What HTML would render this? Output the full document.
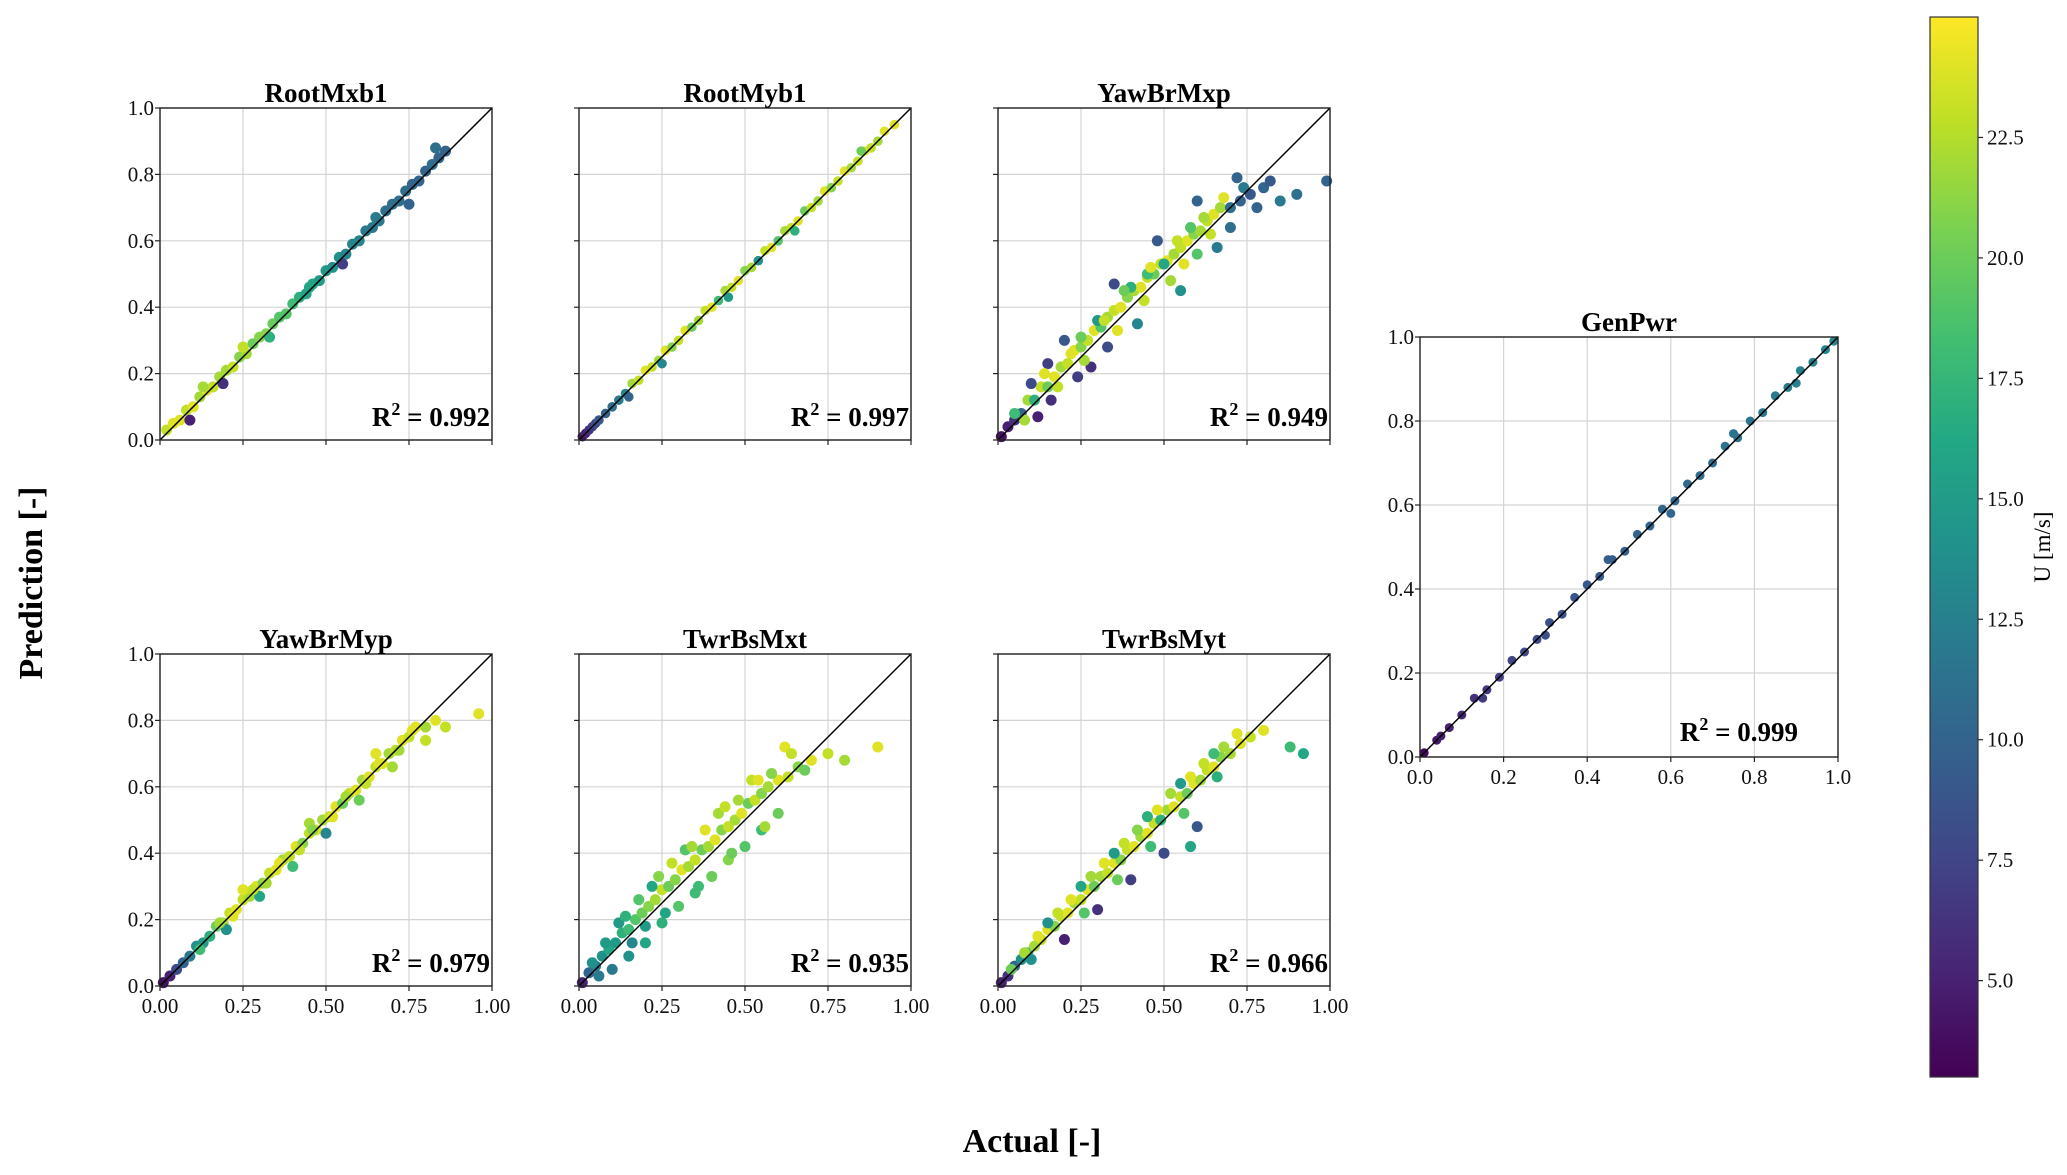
<!DOCTYPE html>
<html><head><meta charset="utf-8"><style>
html,body{margin:0;padding:0;background:#fff;}
svg{display:block;font-family:"Liberation Serif","DejaVu Serif",serif;}
</style></head><body>
<svg id="fig" width="2067" height="1175" viewBox="0 0 2067 1175" xmlns="http://www.w3.org/2000/svg">
<defs>
<linearGradient id="vir" x1="0" y1="1" x2="0" y2="0">
<stop offset="0" stop-color="#440154"/><stop offset="0.1" stop-color="#482475"/><stop offset="0.2" stop-color="#414487"/><stop offset="0.3" stop-color="#355f8d"/><stop offset="0.4" stop-color="#2a788e"/><stop offset="0.5" stop-color="#21918c"/><stop offset="0.6" stop-color="#22a884"/><stop offset="0.7" stop-color="#44bf70"/><stop offset="0.8" stop-color="#7ad151"/><stop offset="0.9" stop-color="#bddf26"/><stop offset="1" stop-color="#fde725"/>
</linearGradient>
</defs>
<text x="1032" y="1152" text-anchor="middle" font-size="34" font-weight="bold">Actual [-]</text>
<text transform="translate(42,583) rotate(-90)" text-anchor="middle" font-size="34" font-weight="bold">Prediction [-]</text>
</svg>
<script>
// ---- data ----
const rootMxb1Actual=[0.02,0.04,0.06,0.08,0.10,0.12,0.14,0.16,0.18,0.20,0.22,0.24,0.26,0.28,0.30,0.32,0.34,0.36,0.38,0.40,0.42,0.44,0.46,0.48,0.50,0.52,0.54,0.56,0.58,0.60,0.62,0.64,0.66,0.68,0.70,0.72,0.74,0.76,0.78,0.80,0.82,0.84,0.86,0.09,0.13,0.19,0.25,0.33,0.45,0.55,0.65,0.75,0.83];
const rootMxb1Pred=[0.03,0.05,0.06,0.09,0.10,0.13,0.15,0.16,0.19,0.21,0.22,0.25,0.26,0.29,0.31,0.32,0.35,0.37,0.38,0.41,0.43,0.44,0.47,0.48,0.51,0.52,0.55,0.56,0.59,0.60,0.63,0.64,0.66,0.69,0.71,0.72,0.75,0.77,0.78,0.81,0.83,0.85,0.87,0.06,0.16,0.17,0.28,0.31,0.46,0.53,0.67,0.71,0.88];
const rootMxb1U=[23,24,24,23,24,22,24,23,22,22,23,21,22,20,21,21,20,19,19,18,17,16,16,15,15,14,14,13,13,13,12,12,12,11,11,11,11,10,10,10,11,10,10,5,22,6,23,17,16,7,12,10,11];

const rootMyb1Actual=[0.01,0.02,0.03,0.04,0.05,0.06,0.08,0.10,0.12,0.14,0.16,0.18,0.20,0.22,0.24,0.26,0.28,0.30,0.32,0.34,0.36,0.38,0.40,0.42,0.44,0.46,0.48,0.50,0.52,0.54,0.56,0.58,0.60,0.62,0.64,0.66,0.68,0.70,0.72,0.74,0.76,0.78,0.80,0.82,0.84,0.86,0.88,0.90,0.92,0.95,0.15,0.25,0.45,0.65,0.85];
const rootMyb1Pred=[0.01,0.02,0.03,0.04,0.05,0.06,0.08,0.10,0.12,0.14,0.17,0.18,0.21,0.22,0.24,0.27,0.28,0.30,0.33,0.34,0.36,0.39,0.40,0.42,0.45,0.46,0.48,0.51,0.52,0.54,0.57,0.58,0.60,0.63,0.64,0.66,0.69,0.70,0.72,0.75,0.76,0.78,0.81,0.82,0.84,0.87,0.88,0.90,0.93,0.95,0.13,0.23,0.43,0.63,0.87];
const rootMyb1U=[4,5,6,7,8,9,10,11,12,13,22,23,24,23,22,24,21,23,24,20,22,23,24,18,22,23,24,21,22,14,23,24,19,22,23,24,20,23,22,24,21,23,24,22,23,24,23,22,24,24,10,13,15,17,20];

const yawBrMxpActual=[0.01,0.03,0.05,0.07,0.09,0.11,0.13,0.15,0.17,0.19,0.21,0.23,0.25,0.27,0.29,0.31,0.33,0.35,0.37,0.39,0.41,0.43,0.45,0.47,0.49,0.51,0.53,0.55,0.57,0.59,0.61,0.63,0.65,0.67,0.70,0.73,0.76,0.80,0.85,0.90,0.99,0.10,0.15,0.20,0.28,0.35,0.42,0.48,0.55,0.60,0.66,0.72,0.30,0.40,0.50,0.58,0.12,0.25,0.45,0.05,0.08,0.14,0.18,0.22,0.26,0.32,0.36,0.38,0.44,0.46,0.52,0.54,0.56,0.62,0.64,0.68,0.74,0.78,0.82,0.70,0.60,0.33,0.24,0.16];
const yawBrMxpPred=[0.01,0.04,0.06,0.08,0.12,0.12,0.16,0.16,0.19,0.22,0.23,0.27,0.28,0.30,0.33,0.34,0.37,0.39,0.40,0.43,0.45,0.46,0.49,0.50,0.53,0.54,0.56,0.58,0.60,0.62,0.63,0.66,0.68,0.70,0.70,0.72,0.74,0.76,0.72,0.74,0.78,0.17,0.23,0.30,0.22,0.47,0.35,0.60,0.45,0.72,0.58,0.79,0.36,0.46,0.53,0.64,0.07,0.31,0.50,0.08,0.06,0.20,0.16,0.26,0.24,0.36,0.33,0.45,0.42,0.52,0.48,0.60,0.53,0.67,0.62,0.73,0.76,0.70,0.78,0.64,0.56,0.28,0.19,0.12];
const yawBrMxpU=[4,5,6,10,22,17,23,20,24,22,23,24,21,23,24,19,22,23,24,21,22,24,23,20,23,24,22,23,24,21,22,23,24,22,11,10,9,10,12,11,10,8,7,9,6,8,13,9,14,10,12,10,15,17,16,19,5,20,18,18,22,24,23,24,22,23,24,20,23,24,22,23,24,22,23,24,12,10,9,11,19,8,7,6];

const yawBrMypActual=[0.01,0.03,0.05,0.07,0.09,0.11,0.13,0.15,0.17,0.19,0.21,0.23,0.25,0.27,0.29,0.31,0.33,0.35,0.37,0.39,0.41,0.43,0.45,0.47,0.49,0.51,0.53,0.55,0.57,0.59,0.61,0.63,0.65,0.67,0.69,0.71,0.73,0.75,0.77,0.80,0.83,0.86,0.96,0.20,0.30,0.40,0.50,0.60,0.70,0.25,0.45,0.65,0.12,0.18,0.22,0.28,0.32,0.36,0.42,0.46,0.52,0.56,0.62,0.66,0.72,0.76,0.80];
const yawBrMypPred=[0.01,0.03,0.05,0.07,0.09,0.12,0.13,0.15,0.18,0.19,0.22,0.23,0.26,0.27,0.30,0.31,0.34,0.35,0.38,0.39,0.42,0.43,0.46,0.47,0.50,0.51,0.54,0.55,0.58,0.59,0.62,0.63,0.66,0.67,0.70,0.71,0.74,0.75,0.78,0.78,0.80,0.78,0.82,0.17,0.27,0.36,0.46,0.56,0.66,0.29,0.49,0.70,0.11,0.19,0.21,0.29,0.31,0.37,0.41,0.47,0.51,0.57,0.61,0.67,0.71,0.77,0.74];
const yawBrMypU=[4,5,8,10,12,14,15,17,20,22,23,24,23,22,24,21,23,24,22,23,24,21,23,24,22,23,24,20,23,24,22,24,23,24,22,23,24,23,24,22,24,23,24,14,16,18,13,20,22,24,22,24,18,22,24,23,22,24,23,21,24,22,23,24,22,24,23];

const twrBsMxtActual=[0.01,0.03,0.05,0.07,0.09,0.11,0.13,0.15,0.17,0.19,0.21,0.23,0.25,0.27,0.29,0.31,0.33,0.35,0.37,0.39,0.41,0.43,0.45,0.47,0.49,0.51,0.53,0.55,0.57,0.60,0.63,0.66,0.70,0.75,0.80,0.90,0.10,0.15,0.20,0.25,0.30,0.35,0.40,0.45,0.50,0.55,0.60,0.12,0.22,0.32,0.42,0.52,0.62,0.04,0.08,0.14,0.18,0.24,0.28,0.34,0.38,0.44,0.48,0.54,0.58,0.64,0.68,0.16,0.26,0.36,0.46,0.56,0.06,0.20];
const twrBsMxtPred=[0.01,0.04,0.06,0.09,0.11,0.13,0.16,0.17,0.20,0.22,0.24,0.26,0.29,0.30,0.32,0.35,0.36,0.38,0.41,0.42,0.44,0.47,0.48,0.50,0.52,0.55,0.56,0.58,0.60,0.62,0.63,0.66,0.68,0.70,0.68,0.72,0.05,0.09,0.13,0.19,0.24,0.28,0.33,0.38,0.42,0.47,0.52,0.19,0.30,0.41,0.52,0.62,0.72,0.07,0.13,0.21,0.26,0.33,0.37,0.42,0.47,0.54,0.56,0.62,0.64,0.70,0.65,0.13,0.22,0.30,0.40,0.48,0.03,0.18];
const twrBsMxtU=[5,10,12,14,16,15,17,18,19,20,21,22,23,20,21,24,22,23,20,22,24,21,23,22,24,20,23,21,22,24,23,21,24,23,22,24,12,14,16,17,19,18,20,21,19,18,20,15,16,19,22,23,24,14,15,17,19,21,23,22,24,23,22,24,21,23,20,13,16,18,20,22,12,15];

const twrBsMytActual=[0.01,0.03,0.05,0.07,0.09,0.11,0.13,0.15,0.17,0.19,0.21,0.23,0.25,0.27,0.29,0.31,0.33,0.35,0.37,0.39,0.41,0.43,0.45,0.47,0.49,0.51,0.53,0.55,0.57,0.59,0.61,0.63,0.65,0.67,0.70,0.73,0.76,0.80,0.88,0.92,0.20,0.30,0.40,0.50,0.60,0.15,0.25,0.35,0.45,0.55,0.65,0.58,0.04,0.08,0.12,0.18,0.22,0.28,0.32,0.38,0.42,0.48,0.52,0.58,0.62,0.68,0.72,0.10,0.26,0.36,0.46,0.56,0.66];
const twrBsMytPred=[0.01,0.03,0.06,0.08,0.10,0.12,0.14,0.17,0.18,0.21,0.22,0.25,0.26,0.29,0.30,0.33,0.34,0.37,0.38,0.41,0.42,0.45,0.46,0.49,0.50,0.53,0.54,0.57,0.58,0.61,0.62,0.65,0.66,0.69,0.70,0.73,0.75,0.77,0.72,0.70,0.14,0.23,0.32,0.40,0.48,0.19,0.30,0.40,0.51,0.61,0.70,0.42,0.05,0.10,0.15,0.22,0.26,0.33,0.37,0.43,0.47,0.53,0.58,0.63,0.67,0.72,0.76,0.08,0.22,0.32,0.42,0.52,0.63];
const twrBsMytU=[5,6,10,14,18,22,23,24,21,23,24,22,23,24,20,22,23,24,21,23,24,22,24,23,17,22,24,23,20,24,22,23,24,21,22,24,23,24,18,16,5,6,7,8,9,14,16,15,17,15,18,16,20,22,24,23,24,22,24,23,21,24,22,24,23,22,24,14,19,20,18,19,17];

const genPwrActual=[0.01,0.04,0.07,0.10,0.13,0.16,0.19,0.22,0.25,0.28,0.31,0.34,0.37,0.40,0.43,0.46,0.49,0.52,0.55,0.58,0.61,0.64,0.67,0.70,0.73,0.76,0.79,0.82,0.85,0.88,0.91,0.94,0.97,0.99,0.05,0.15,0.30,0.45,0.60,0.75,0.90];
const genPwrPred=[0.01,0.04,0.07,0.10,0.14,0.16,0.19,0.23,0.25,0.28,0.32,0.34,0.38,0.41,0.43,0.47,0.49,0.53,0.55,0.59,0.61,0.65,0.67,0.70,0.74,0.76,0.80,0.82,0.86,0.88,0.92,0.94,0.97,0.99,0.05,0.14,0.29,0.47,0.58,0.77,0.89];
const genPwrU=[3.5,4.5,5,5.5,6,6.5,7,7.5,7.8,8,8.3,8.6,8.8,9,9.2,9.5,9.7,9.9,10,10.2,10.4,10.6,10.8,11,11.2,11.4,11.6,11.8,12,12.3,12.6,12.8,13,13.2,4.8,6.8,8.2,9.4,10.2,11.3,12.4];

const r2Labels=["0.992","0.997","0.949","0.979","0.935","0.966","0.999"];
const panelTitles=["RootMxb1","RootMyb1","YawBrMxp","YawBrMyp","TwrBsMxt","TwrBsMyt","GenPwr"];
const smallTicks=[0,0.25,0.5,0.75,1.0];
const smallTickLabels=["0.00","0.25","0.50","0.75","1.00"];
const yTicks=[0,0.2,0.4,0.6,0.8,1.0];
const yTickLabels=["0.0","0.2","0.4","0.6","0.8","1.0"];
const cbarTicks=[5,7.5,10,12.5,15,17.5,20,22.5];
const cbarTickLabels=["5.0","7.5","10.0","12.5","15.0","17.5","20.0","22.5"];
const uMin=3.0, uMax=25.0;

// ---- drawing ----
const NS="http://www.w3.org/2000/svg";
const svg=document.getElementById('fig');
function mk(tag,attrs,parent){const e=document.createElementNS(NS,tag);for(const k in attrs)e.setAttribute(k,attrs[k]);(parent||svg).appendChild(e);return e;}
const stops=[[68,1,84],[72,36,117],[65,68,135],[53,95,141],[42,120,142],[33,145,140],[34,168,132],[68,191,112],[122,209,81],[189,223,38],[253,231,37]];
function viridis(u){let t=(u-uMin)/(uMax-uMin);t=Math.max(0,Math.min(1,t));const f=t*10;const i=Math.min(9,Math.floor(f));const w=f-i;const a=stops[i],b=stops[i+1];return 'rgb('+a.map((v,k)=>Math.round(v+(b[k]-v)*w)).join(',')+')';}

const panels=[
 {x:160,y:108,w:332,h:332,ax:rootMxb1Actual,pr:rootMxb1Pred,u:rootMxb1U,xl:false,yl:true,xt:smallTicks,r:5.5},
 {x:579,y:108,w:332,h:332,ax:rootMyb1Actual,pr:rootMyb1Pred,u:rootMyb1U,xl:false,yl:false,xt:smallTicks,r:4.8},
 {x:998,y:108,w:332,h:332,ax:yawBrMxpActual,pr:yawBrMxpPred,u:yawBrMxpU,xl:false,yl:false,xt:smallTicks,r:5.5},
 {x:160,y:654,w:332,h:332,ax:yawBrMypActual,pr:yawBrMypPred,u:yawBrMypU,xl:true,yl:true,xt:smallTicks,r:5.5},
 {x:579,y:654,w:332,h:332,ax:twrBsMxtActual,pr:twrBsMxtPred,u:twrBsMxtU,xl:true,yl:false,xt:smallTicks,r:5.5},
 {x:998,y:654,w:332,h:332,ax:twrBsMytActual,pr:twrBsMytPred,u:twrBsMytU,xl:true,yl:false,xt:smallTicks,r:5.5},
 {x:1420,y:337,w:418,h:420,ax:genPwrActual,pr:genPwrPred,u:genPwrU,xl:true,yl:true,xt:yTicks,gen:true,r:4.5}
];

panels.forEach((p,pi)=>{
  const g=mk('g',{});
  
  
  const sx=v=>p.x+v*p.w, sy=v=>p.y+p.h-v*p.h;
  p.xt.forEach(t=>{const l=mk('line',{x1:sx(t),x2:sx(t),y1:p.y,y2:p.y+p.h,stroke:'#d4d4d4','stroke-width':1.2},g);
    });
  yTicks.forEach(t=>{const l=mk('line',{x1:p.x,x2:p.x+p.w,y1:sy(t),y2:sy(t),stroke:'#d4d4d4','stroke-width':1.2},g);
    });
  p.ax.forEach((a,i)=>{const c=mk('circle',{cx:sx(a),cy:sy(p.pr[i]),r:p.r,fill:viridis(p.u[i])},g);
    });
  const d=mk('line',{x1:sx(0),y1:sy(0),x2:sx(1),y2:sy(1),stroke:'#000','stroke-width':1.5},g);
  
  const f=mk('rect',{x:p.x,y:p.y,width:p.w,height:p.h,fill:'none',stroke:'#222','stroke-width':1.4},g);
  
  p.xt.forEach((t,i)=>{mk('line',{x1:sx(t),x2:sx(t),y1:p.y+p.h,y2:p.y+p.h+5,stroke:'#222','stroke-width':1.2},g);
    if(p.xl){const tx=mk('text',{x:sx(t),y:p.y+p.h+27,'text-anchor':'middle','font-size':21,fill:'#111'},g);
      tx.textContent=p.gen?yTickLabels[i]:smallTickLabels[i];
      }});
  yTicks.forEach((t,i)=>{mk('line',{x1:p.x-5,x2:p.x,y1:sy(t),y2:sy(t),stroke:'#222','stroke-width':1.2},g);
    if(p.yl){const tx=mk('text',{x:p.x-6,y:sy(t)+7,'text-anchor':'end','font-size':21,fill:'#111'},g);
      tx.textContent=yTickLabels[i];
      }});
  const ti=mk('text',{x:p.x+p.w/2,y:p.y-6,'text-anchor':'middle','font-size':27,'font-weight':'bold'},g);
  ti.textContent=panelTitles[pi];
  
  const rx=p.gen?p.x+p.w-40:p.x+p.w-2, ry=p.gen?p.y+p.h-16:p.y+p.h-14;
  const rt=mk('text',{x:rx,y:ry,'text-anchor':'end','font-size':27,'font-weight':'bold'},g);
  rt.innerHTML='R<tspan dy="-11" font-size="18">2</tspan><tspan dy="11"> = '+r2Labels[pi]+'</tspan>';
  
});

// colorbar
const cb={x:1930,y:17,w:48,h:1060};
const cg=mk('g',{});


const cr=mk('rect',{x:cb.x,y:cb.y,width:cb.w,height:cb.h,fill:'url(#vir)',stroke:'#333','stroke-width':1.2},cg);

const cy=v=>cb.y+cb.h-(v-uMin)/(uMax-uMin)*cb.h;
cbarTicks.forEach((t,i)=>{mk('line',{x1:cb.x+cb.w,x2:cb.x+cb.w+5,y1:cy(t),y2:cy(t),stroke:'#222','stroke-width':1.2},cg);
  const tx=mk('text',{x:cb.x+cb.w+9,y:cy(t)+7,'font-size':21,fill:'#111'},cg);
  tx.textContent=cbarTickLabels[i];
  });
const cl=mk('text',{transform:'translate(2050,547) rotate(-90)','text-anchor':'middle','font-size':23},cg);
cl.textContent='U [m/s]';

</script>
</body></html>
